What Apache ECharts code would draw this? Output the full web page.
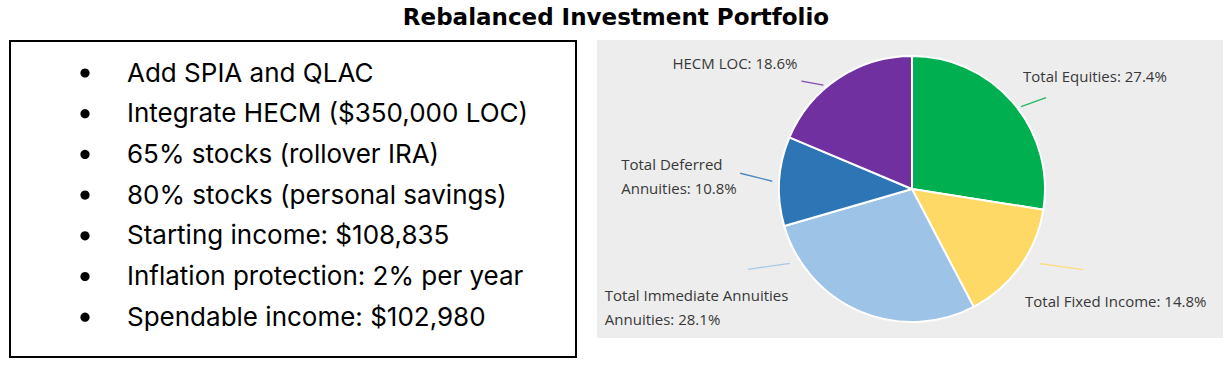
<!DOCTYPE html>
<html><head><meta charset="utf-8">
<script src="https://cdn.jsdelivr.net/npm/echarts@6/dist/echarts.min.js"></script>
<style>html,body{margin:0;padding:0;background:#fff}#c{width:1231px;height:372px}</style>
</head><body><div id="c"></div>
<script>
// ---- data ----
const TITLE = 'Rebalanced Investment Portfolio';
const BULLETS = [
  'Add SPIA and QLAC',
  'Integrate HECM ($350,000 LOC)',
  '65% stocks (rollover IRA)',
  '80% stocks (personal savings)',
  'Starting income: $108,835',
  'Inflation protection: 2% per year',
  'Spendable income: $102,980'
];
const CATEGORIES = ['Total Equities', 'Total Fixed Income', 'Total Immediate Annuities', 'Total Deferred Annuities', 'HECM LOC'];
const LABEL_TEXTS = ['Total Equities', 'Total Fixed Income', 'Total Immediate Annuities\nAnnuities', 'Total Deferred\nAnnuities', 'HECM LOC'];
const VALUES = [27.4, 14.8, 28.1, 10.8, 18.6];

// ---- style ----
const COLORS = ['#00b050', '#ffd966', '#9dc3e6', '#2e75b6', '#7030a0'];
const PIE_CENTER = [912, 189];
const PIE_R = 133;
// label anchor (left / middle) and leader line offsets relative to the slice's outer mid point
const LABEL_OFFSET = [[10, -27], [5, 34], [-255, -4], [-158, -5], [-166, -15]];
const LINE_OFFSET = [
  [[8, 4], [33, -5]],
  [[20, -3], [63, 3]],
  [[-70, -48], [-112, -42]],
  [[-39, -8], [-7, 0]],
  [[-37, 3], [-15, 7]]
];

const total = VALUES.reduce((a, b) => a + b, 0);
function midPoint(i) {
  let before = 0;
  for (let k = 0; k < i; k++) before += VALUES[k];
  const ang = (before + VALUES[i] / 2) / total * Math.PI * 2;
  return [PIE_CENTER[0] + PIE_R * Math.sin(ang), PIE_CENTER[1] - PIE_R * Math.cos(ang)];
}

const chart = echarts.init(document.getElementById('c'), null, {renderer: 'svg'});

const graphics = [
  {type: 'rect', shape: {x: 597, y: 40, width: 626, height: 298}, style: {fill: '#ededed'}, z: -10, silent: true},
  {type: 'rect', shape: {x: 10, y: 41, width: 566, height: 316}, style: {fill: 'none', stroke: '#000', lineWidth: 2}, silent: true},
  {type: 'text', x: 616, y: 17, style: {text: TITLE, font: 'bold 23px "DejaVu Sans"', fill: '#000', align: 'center', verticalAlign: 'middle'}, silent: true}
];
BULLETS.forEach((t, i) => {
  const y = 72 + i * 40.7;
  graphics.push({type: 'circle', shape: {cx: 85, cy: y + 1, r: 4.6}, style: {fill: '#000'}, silent: true});
  graphics.push({type: 'text', x: 127, y: y, style: {text: t, font: '26px Inter', fill: '#000', align: 'left', verticalAlign: 'middle'}, silent: true});
});

chart.setOption({
  animation: false,
  backgroundColor: '#fff',
  graphic: graphics,
  series: [{
    type: 'pie',
    center: PIE_CENTER,
    radius: PIE_R,
    startAngle: 90,
    clockwise: true,
    avoidLabelOverlap: false,
    silent: true,
    itemStyle: {borderColor: '#fff', borderWidth: 2},
    label: {
      show: true,
      position: 'outside',
      color: '#383838',
      fontFamily: 'Open Sans',
      fontSize: 15,
      lineHeight: 24,
      formatter: p => LABEL_TEXTS[p.dataIndex] + ': ' + p.value + '%'
    },
    labelLine: {show: true, length: 10, length2: 10, smooth: false, lineStyle: {width: 1.3, opacity: 0.85}},
    labelLayout: function (p) {
      const i = p.dataIndex;
      const a = (p.labelLinePoints && p.labelLinePoints[0]) ? p.labelLinePoints[0] : midPoint(i);
      const lo = LINE_OFFSET[i];
      return {
        x: a[0] + LABEL_OFFSET[i][0],
        y: a[1] + LABEL_OFFSET[i][1],
        align: 'left',
        verticalAlign: 'middle',
        labelLinePoints: [[a[0] + lo[0][0], a[1] + lo[0][1]], [a[0] + lo[1][0], a[1] + lo[1][1]]]
      };
    },
    data: CATEGORIES.map((c, i) => ({name: c, value: VALUES[i], itemStyle: {color: COLORS[i]}, labelLine: {lineStyle: {color: COLORS[i]}}}))
  }]
});
</script>
</body></html>
